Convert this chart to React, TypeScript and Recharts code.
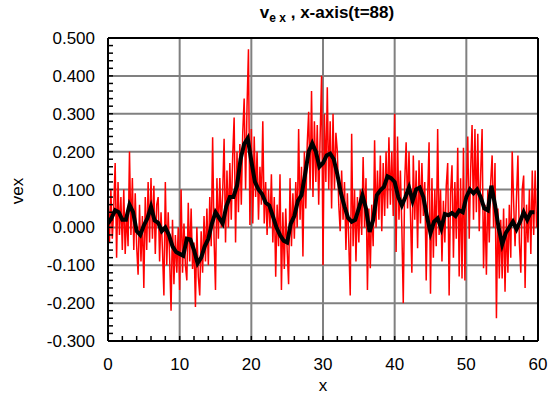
import { LineChart, Line, XAxis, YAxis, CartesianGrid } from 'recharts';

// red: raw vex, sampled every 0.2 in x (0..60)
const RED_STEP = 0.2;
const redValues = [
  0.09, -0.04, 0.1, -0.03, 0.05,
  0.17, -0.08, 0.12, -0.02, 0.08,
  -0.06, 0.1, -0.07, 0.04, -0.05,
  0.2, -0.02, 0.13, -0.06, 0.09,
  -0.05, -0.125, 0.06, -0.09, 0.03,
  -0.16, 0.08, -0.06, 0.12, -0.04,
  0.13, -0.03, 0.11, -0.07, 0.06,
  0.08, -0.09, 0.04, -0.06, -0.18,
  0.12, -0.1, 0.04, -0.08, -0.22,
  0.02, -0.15, -0.02, -0.12, 0.0,
  -0.165, 0.1, -0.12, 0.01, -0.1,
  -0.14, 0.065, -0.09, 0.05, -0.11,
  -0.04, -0.21, 0.0, -0.13, -0.18,
  -0.01, -0.12, 0.03, -0.09, 0.05,
  -0.1, 0.08, -0.05, 0.238, -0.03,
  -0.165, 0.13, -0.03, 0.13, 0.0,
  0.09, 0.234, -0.04, 0.15, 0.0,
  0.17, 0.02, 0.19, 0.29, -0.04,
  0.2, 0.04, 0.22, 0.06, 0.25,
  0.34, 0.1, 0.32, 0.47, 0.006,
  0.26, 0.01, 0.24, 0.08, 0.2,
  0.02, 0.16, 0.06, 0.28, 0.01,
  0.12, -0.02, 0.1, 0.0, 0.14,
  -0.04, 0.08, -0.13, 0.06, -0.05,
  0.14, -0.165, 0.04, -0.11, 0.05,
  -0.06, -0.15, 0.13, -0.05, 0.09,
  -0.03, 0.12, 0.0, 0.26, 0.02,
  0.16, -0.077, 0.2, 0.05, 0.22,
  0.305, 0.1, 0.36, 0.08, 0.28,
  0.12, 0.27, 0.06, 0.24, 0.4,
  -0.1, 0.3, 0.12, 0.37, 0.1,
  0.28, 0.05, 0.3, 0.1, 0.25,
  0.2, 0.06, -0.01, 0.15, 0.02,
  0.12, -0.06, 0.09, -0.04, -0.18,
  0.247, -0.05, 0.1, -0.09, 0.08,
  -0.04, 0.1, -0.02, 0.186, 0.0,
  0.13, -0.165, 0.05, -0.108, 0.06,
  -0.05, 0.23, 0.0, 0.15, 0.02,
  0.19, -0.01, 0.17, 0.03, 0.2,
  0.05, 0.238, 0.06, 0.2, 0.03,
  0.3, -0.065, 0.24, 0.02, 0.15,
  0.0, -0.2, 0.12, 0.225, 0.05,
  0.2, 0.04, -0.12, 0.19, 0.02,
  0.15, -0.055, 0.177, 0.01, 0.17,
  0.03, 0.12, -0.14, 0.08, 0.225,
  -0.175, 0.13, -0.08, 0.1, -0.05,
  0.26, -0.02, 0.1, -0.09, 0.07,
  -0.04, 0.11, 0.17, -0.18, 0.09,
  0.164, -0.08, 0.12, -0.03, 0.21,
  -0.13, 0.13, -0.135, 0.21, -0.14,
  0.1, 0.24, -0.03, 0.15, 0.27,
  0.02, 0.26, 0.04, 0.247, -0.01,
  0.14, 0.26, -0.108, 0.06, -0.125,
  0.1, -0.04, 0.12, 0.19, 0.0,
  0.17, -0.24, 0.05, -0.135, 0.02,
  -0.135, 0.05, -0.17, 0.024, -0.12,
  0.06, -0.08, 0.2, 0.067, -0.05,
  0.08, 0.19, -0.04, -0.12, 0.1,
  0.137, -0.16, 0.06, -0.04, 0.1,
  -0.07, 0.15, -0.02, 0.15, 0.0,
  0.05,
];

// black: smoothed vex, every 0.5 in x
const BLACK_STEP = 0.5;
const blackValues = [
  0.01, 0.025, 0.045, 0.04, 0.02, 0.02, 0.06, 0.04, -0.01, -0.02,
  0.005, 0.024, 0.055, 0.018, 0.012, -0.01, 0.0, -0.02, -0.05, -0.065,
  -0.07, -0.075, -0.03, -0.032, -0.06, -0.095, -0.08, -0.05, -0.03, 0.01,
  0.04, 0.025, 0.01, 0.055, 0.08, 0.08, 0.11, 0.18, 0.22, 0.235,
  0.175, 0.12, 0.1, 0.088, 0.065, 0.058, 0.03, 0.0, -0.02, -0.035,
  -0.04, 0.01, 0.03, 0.07, 0.085, 0.14, 0.2, 0.222, 0.2, 0.16,
  0.17, 0.19, 0.195, 0.18, 0.14, 0.09, 0.055, 0.025, 0.015, 0.02,
  0.05, 0.085, 0.05, -0.012, 0.02, 0.085, 0.098, 0.107, 0.135, 0.13,
  0.12, 0.08, 0.058, 0.08, 0.105, 0.07, 0.1, 0.105, 0.08, 0.03,
  -0.015, 0.015, 0.024, -0.003, 0.035, 0.032, 0.038, 0.03, 0.045, 0.04,
  0.08, 0.1, 0.09, 0.1, 0.08, 0.05, 0.045, 0.11, 0.06, 0.0,
  -0.045, -0.015, 0.0, 0.015, -0.005, 0.015, 0.04, 0.02, 0.04, 0.04,
];

const xTicks = Array.from({ length: 31 }, (_, i) => i * 2);
const yTicks = Array.from({ length: 41 }, (_, i) => Math.round((-0.3 + i * 0.02) * 100) / 100);
const xGrid = [10, 20, 30, 40, 50];
const yGrid = [-0.2, -0.1, 0, 0.1, 0.2, 0.3, 0.4];

const redData = redValues.map((v, i) => ({ x: Math.round(i * RED_STEP * 10) / 10, v }));
const blackData = blackValues.map((v, i) => ({ x: i * BLACK_STEP, v }));

const font = "'Liberation Sans', Arial, sans-serif";
const axisStroke = { stroke: '#000', strokeWidth: 2 };
const tickStroke = { stroke: '#000', strokeWidth: 1.5 };

const fmtX = (v: number) => (v % 10 === 0 ? String(v) : '');
const fmtY = (v: number) => (Math.round(v * 100) % 10 === 0 ? v.toFixed(3) : '');

export default function App() {
  return (
    <div style={{ position: 'absolute', left: 0, top: 0, width: 550, height: 396, background: '#fff', fontFamily: font }}>
      <LineChart width={550} height={396} margin={{ top: 37, right: 11, bottom: 25, left: 0 }}>
        <CartesianGrid stroke="#808080" strokeWidth={2} verticalValues={xGrid} horizontalValues={yGrid} />
        <XAxis
          dataKey="x"
          type="number"
          domain={[0, 60]}
          ticks={xTicks}
          interval={0}
          tickFormatter={fmtX}
          tickSize={-5}
          tickMargin={22}
          height={30}
          axisLine={axisStroke}
          tickLine={tickStroke}
          tick={{ fill: '#000', fontSize: 17, fontFamily: font }}
          allowDataOverflow
        />
        <XAxis
          xAxisId="top"
          orientation="top"
          type="number"
          domain={[0, 60]}
          ticks={xTicks}
          interval={0}
          tickSize={-5}
          tick={false}
          height={1}
          axisLine={axisStroke}
          tickLine={tickStroke}
        />
        <YAxis
          type="number"
          domain={[-0.3, 0.5]}
          ticks={yTicks}
          interval={0}
          tickFormatter={fmtY}
          tickSize={-5}
          tickMargin={18}
          width={108}
          axisLine={axisStroke}
          tickLine={tickStroke}
          tick={{ fill: '#000', fontSize: 17, fontFamily: font }}
          allowDataOverflow
        />
        <YAxis
          yAxisId="right"
          orientation="right"
          type="number"
          domain={[-0.3, 0.5]}
          ticks={yTicks}
          interval={0}
          tickSize={-5}
          tick={false}
          width={1}
          axisLine={axisStroke}
          tickLine={tickStroke}
        />
        <Line data={redData} dataKey="v" type="linear" stroke="#ff0000" strokeWidth={1.5} dot={false} isAnimationActive={false} />
        <Line data={blackData} dataKey="v" type="linear" stroke="#000" strokeWidth={4} dot={false} isAnimationActive={false} />
      </LineChart>
      <div style={{ position: 'absolute', left: 127, width: 400, top: 3, textAlign: 'center', fontWeight: 'bold', fontSize: 17, whiteSpace: 'pre' }}>
        v<span style={{ fontSize: 12, position: 'relative', top: 4 }}>e x</span> , x-axis(t=88)
      </div>
      <div style={{ position: 'absolute', left: 300, width: 46, top: 378, lineHeight: '16px', textAlign: 'center', fontSize: 17 }}>x</div>
      <div style={{ position: 'absolute', left: 18, top: 191, fontSize: 17, transform: 'translate(-50%, -50%) rotate(-90deg)', whiteSpace: 'pre' }}>vex</div>
    </div>
  );
}
